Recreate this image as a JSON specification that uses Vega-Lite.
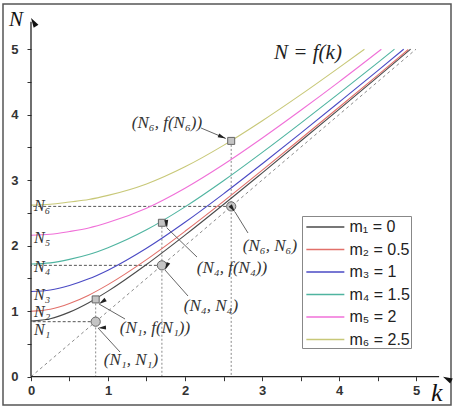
{
  "$schema": "https://vega.github.io/schema/vega-lite/v6.json",
  "width": 448,
  "height": 401,
  "autosize": "none",
  "padding": {"left": 3, "top": 4, "right": 4, "bottom": 3},
  "background": "white",
  "config": {
    "view": {"stroke": "#555", "strokeWidth": 1.5},
    "font": "Liberation Sans",
    "axis": {"grid": false}
  },
  "datasets": {
    "curves": [
      {"k": 0, "N": 0.85, "m": "m₁ = 0"}, {"k": 0.25, "N": 0.886, "m": "m₁ = 0"}, {"k": 0.5, "N": 0.986, "m": "m₁ = 0"}, {"k": 0.75, "N": 1.13, "m": "m₁ = 0"}, {"k": 1, "N": 1.306, "m": "m₁ = 0"}, {"k": 1.5, "N": 1.713, "m": "m₁ = 0"}, {"k": 2, "N": 2.161, "m": "m₁ = 0"}, {"k": 2.5, "N": 2.629, "m": "m₁ = 0"}, {"k": 3, "N": 3.109, "m": "m₁ = 0"}, {"k": 3.5, "N": 3.594, "m": "m₁ = 0"}, {"k": 4, "N": 4.082, "m": "m₁ = 0"}, {"k": 4.5, "N": 4.573, "m": "m₁ = 0"}, {"k": 4.93, "N": 5.0, "m": "m₁ = 0"},
      {"k": 0, "N": 1.0, "m": "m₂ = 0.5"}, {"k": 0.25, "N": 1.031, "m": "m₂ = 0.5"}, {"k": 0.5, "N": 1.118, "m": "m₂ = 0.5"}, {"k": 0.75, "N": 1.245, "m": "m₂ = 0.5"}, {"k": 1, "N": 1.406, "m": "m₂ = 0.5"}, {"k": 1.5, "N": 1.788, "m": "m₂ = 0.5"}, {"k": 2, "N": 2.22, "m": "m₂ = 0.5"}, {"k": 2.5, "N": 2.677, "m": "m₂ = 0.5"}, {"k": 3, "N": 3.149, "m": "m₂ = 0.5"}, {"k": 3.5, "N": 3.629, "m": "m₂ = 0.5"}, {"k": 4, "N": 4.113, "m": "m₂ = 0.5"}, {"k": 4.5, "N": 4.601, "m": "m₂ = 0.5"}, {"k": 4.9, "N": 4.995, "m": "m₂ = 0.5"},
      {"k": 0, "N": 1.3, "m": "m₃ = 1"}, {"k": 0.25, "N": 1.324, "m": "m₃ = 1"}, {"k": 0.5, "N": 1.393, "m": "m₃ = 1"}, {"k": 0.75, "N": 1.494, "m": "m₃ = 1"}, {"k": 1, "N": 1.627, "m": "m₃ = 1"}, {"k": 1.5, "N": 1.961, "m": "m₃ = 1"}, {"k": 2, "N": 2.358, "m": "m₃ = 1"}, {"k": 2.5, "N": 2.792, "m": "m₃ = 1"}, {"k": 3, "N": 3.248, "m": "m₃ = 1"}, {"k": 3.5, "N": 3.715, "m": "m₃ = 1"}, {"k": 4, "N": 4.19, "m": "m₃ = 1"}, {"k": 4.5, "N": 4.669, "m": "m₃ = 1"}, {"k": 4.84, "N": 5.0, "m": "m₃ = 1"},
      {"k": 0, "N": 1.72, "m": "m₄ = 1.5"}, {"k": 0.25, "N": 1.738, "m": "m₄ = 1.5"}, {"k": 0.5, "N": 1.791, "m": "m₄ = 1.5"}, {"k": 0.75, "N": 1.865, "m": "m₄ = 1.5"}, {"k": 1, "N": 1.97, "m": "m₄ = 1.5"}, {"k": 1.5, "N": 2.243, "m": "m₄ = 1.5"}, {"k": 2, "N": 2.593, "m": "m₄ = 1.5"}, {"k": 2.5, "N": 2.992, "m": "m₄ = 1.5"}, {"k": 3, "N": 3.421, "m": "m₄ = 1.5"}, {"k": 3.5, "N": 3.868, "m": "m₄ = 1.5"}, {"k": 4, "N": 4.326, "m": "m₄ = 1.5"}, {"k": 4.5, "N": 4.792, "m": "m₄ = 1.5"}, {"k": 4.72, "N": 5.0, "m": "m₄ = 1.5"},
      {"k": 0, "N": 2.16, "m": "m₅ = 2"}, {"k": 0.25, "N": 2.174, "m": "m₅ = 2"}, {"k": 0.5, "N": 2.217, "m": "m₅ = 2"}, {"k": 0.75, "N": 2.271, "m": "m₅ = 2"}, {"k": 1, "N": 2.353, "m": "m₅ = 2"}, {"k": 1.5, "N": 2.573, "m": "m₅ = 2"}, {"k": 2, "N": 2.878, "m": "m₅ = 2"}, {"k": 2.5, "N": 3.24, "m": "m₅ = 2"}, {"k": 3, "N": 3.641, "m": "m₅ = 2"}, {"k": 3.5, "N": 4.064, "m": "m₅ = 2"}, {"k": 4, "N": 4.502, "m": "m₅ = 2"}, {"k": 4.55, "N": 5.0, "m": "m₅ = 2"},
      {"k": 0, "N": 2.62, "m": "m₆ = 2.5"}, {"k": 0.25, "N": 2.632, "m": "m₆ = 2.5"}, {"k": 0.5, "N": 2.667, "m": "m₆ = 2.5"}, {"k": 0.75, "N": 2.705, "m": "m₆ = 2.5"}, {"k": 1, "N": 2.768, "m": "m₆ = 2.5"}, {"k": 1.5, "N": 2.943, "m": "m₆ = 2.5"}, {"k": 2, "N": 3.205, "m": "m₆ = 2.5"}, {"k": 2.5, "N": 3.532, "m": "m₆ = 2.5"}, {"k": 3, "N": 3.904, "m": "m₆ = 2.5"}, {"k": 3.5, "N": 4.302, "m": "m₆ = 2.5"}, {"k": 4, "N": 4.719, "m": "m₆ = 2.5"}, {"k": 4.33, "N": 5.0, "m": "m₆ = 2.5"}
    ],
    "diag": [{"k": 0, "N": 0}, {"k": 5, "N": 5}],
    "fp": [{"n": 0.84, "f": 1.18}, {"n": 1.7, "f": 2.35}, {"n": 2.6, "f": 3.6}],
    "arrows": [
      {"id": "a", "x1": 2.208, "y1": 3.797, "x2": 2.53, "y2": 3.637},
      {"id": "b", "x1": 2.818, "y1": 2.194, "x2": 2.649, "y2": 2.515},
      {"id": "c", "x1": 2.156, "y1": 1.827, "x2": 1.766, "y2": 2.27},
      {"id": "d", "x1": 2.039, "y1": 1.232, "x2": 1.74, "y2": 1.629},
      {"id": "e", "x1": 1.221, "y1": 0.881, "x2": 0.883, "y2": 1.11},
      {"id": "f", "x1": 1.156, "y1": 0.377, "x2": 0.87, "y2": 0.744}
    ],
    "axes": [
      {"id": "x", "x1": 0, "y1": 0, "x2": 5.3, "y2": 0},
      {"id": "y", "x1": 0, "y1": 0, "x2": 0, "y2": 5.42}
    ],
    "axisTips": [
      {"id": "x", "k": 5.35, "N": 0},
      {"id": "y", "k": 0, "N": 5.476}
    ],
    "ann": [
      {"k": 1.766, "N": 3.87, "t": "(N₆, f(N₆))"},
      {"k": 3.104, "N": 1.995, "t": "(N₆, N₆)"},
      {"k": 2.61, "N": 1.66, "t": "(N₄, f(N₄))"},
      {"k": 2.338, "N": 1.079, "t": "(N₄, N₄)"},
      {"k": 1.61, "N": 0.744, "t": "(N₁, f(N₁))"},
      {"k": 1.299, "N": 0.255, "t": "(N₁, N₁)"}
    ],
    "nlab": [
      {"k": 0.04, "N": 2.606, "t": "N₆"},
      {"k": 0.04, "N": 2.118, "t": "N₅"},
      {"k": 0.04, "N": 1.675, "t": "N₄"},
      {"k": 0.04, "N": 1.25, "t": "N₃"},
      {"k": 0.04, "N": 0.985, "t": "N₂"},
      {"k": 0.04, "N": 0.713, "t": "N₁"}
    ],
    "heading": [{"k": 3.597, "N": 4.942, "t": "N = f(k)"}],
    "ytitle": [{"k": -0.195, "N": 5.446, "t": "N"}],
    "xtitle": [{"k": 5.27, "N": -0.248, "t": "k"}]
  },
  "layer": [
    {
      "data": {"name": "diag"},
      "mark": {"type": "line", "stroke": "#8a8a8a", "strokeWidth": 1, "strokeDash": [3, 3]},
      "encoding": {
        "x": {"field": "k", "type": "quantitative", "title": null, "scale": {"domain": [-0.3636, 5.4545], "nice": false, "zero": false}},
        "y": {"field": "N", "type": "quantitative", "title": null, "scale": {"domain": [-0.432, 5.69], "nice": false, "zero": false}}
      }
    },
    {
      "data": {"name": "fp"},
      "mark": {"type": "rule", "stroke": "#8a8a8a", "strokeWidth": 1, "strokeDash": [2, 2]},
      "encoding": {
        "x": {"field": "n", "type": "quantitative", "title": null},
        "y": {"field": "f", "type": "quantitative", "title": null},
        "y2": {"datum": 0}
      }
    },
    {
      "data": {"name": "fp"},
      "mark": {"type": "rule", "stroke": "#555", "strokeWidth": 1, "strokeDash": [3, 2]},
      "encoding": {
        "x": {"field": "n", "type": "quantitative", "title": null},
        "x2": {"datum": 0},
        "y": {"field": "n", "type": "quantitative", "title": null}
      }
    },
    {
      "data": {"name": "curves"},
      "mark": {"type": "line", "interpolate": "monotone", "strokeWidth": 1.1},
      "encoding": {
        "x": {
          "field": "k", "type": "quantitative", "title": null,
          "axis": {
            "offset": -28.3, "domain": false,
            "values": [0, 0.5, 1, 1.5, 2, 2.5, 3, 3.5, 4, 4.5, 5],
            "labelExpr": "datum.value % 1 === 0 ? format(datum.value, 'd') : ''",
            "tickSize": 4,
            "tickColor": "#333", "labelColor": "#333", "labelFontSize": 13, "labelPadding": 4, "labelFont": "Liberation Sans", "labelFontWeight": "bold"
          }
        },
        "y": {
          "field": "N", "type": "quantitative", "title": null,
          "axis": {
            "offset": -28, "domain": false,
            "values": [0, 0.5, 1, 1.5, 2, 2.5, 3, 3.5, 4, 4.5, 5],
            "labelExpr": "datum.value % 1 === 0 ? format(datum.value, 'd') : ''",
            "tickSize": 4,
            "tickColor": "#333", "labelColor": "#333", "labelFontSize": 13, "labelPadding": 9, "labelFont": "Liberation Sans", "labelFontWeight": "bold"
          }
        },
        "color": {
          "field": "m", "type": "nominal",
          "scale": {
            "domain": ["m₁ = 0", "m₂ = 0.5", "m₃ = 1", "m₄ = 1.5", "m₅ = 2", "m₆ = 2.5"],
            "range": ["#4a4a4a", "#e2706a", "#4a4ac4", "#4fb4a0", "#f070d8", "#c8c878"]
          },
          "legend": {
            "orient": "none", "legendX": 299, "legendY": 212, "title": null,
            "symbolType": "M-0.7,0H3.3", "symbolSize": 361, "symbolStrokeWidth": 1.5,
            "labelFontSize": 16, "labelFont": "Liberation Sans", "labelColor": "#222",
            "strokeColor": "#888", "fillColor": "white", "padding": 0.5, "rowPadding": 3.5, "labelOffset": 26
          }
        }
      }
    },
    {
      "data": {"name": "fp"},
      "mark": {"type": "point", "shape": "square", "filled": true, "fill": "#c4c4c4", "stroke": "#666", "strokeWidth": 1, "size": 49, "opacity": 1},
      "encoding": {
        "x": {"field": "n", "type": "quantitative", "title": null},
        "y": {"field": "f", "type": "quantitative", "title": null}
      }
    },
    {
      "data": {"name": "fp"},
      "mark": {"type": "point", "shape": "circle", "filled": true, "fill": "#c4c4c4", "stroke": "#666", "strokeWidth": 1, "size": 85, "opacity": 1},
      "encoding": {
        "x": {"field": "n", "type": "quantitative", "title": null},
        "y": {"field": "n", "type": "quantitative", "title": null}
      }
    },
    {
      "data": {"name": "arrows"},
      "mark": {"type": "rule", "stroke": "#666", "strokeWidth": 1},
      "encoding": {
        "x": {"field": "x1", "type": "quantitative", "title": null},
        "y": {"field": "y1", "type": "quantitative", "title": null},
        "x2": {"field": "x2"},
        "y2": {"field": "y2"}
      }
    },
    {
      "data": {"name": "arrows"},
      "mark": {"type": "point", "shape": "M0,0L0.5,2L-0.5,2Z", "filled": true, "color": "#222", "size": 64, "opacity": 1},
      "encoding": {
        "x": {"field": "x2", "type": "quantitative", "title": null},
        "y": {"field": "y2", "type": "quantitative", "title": null},
        "angle": {"field": "id", "type": "nominal", "legend": null, "scale": {"domain": ["a", "b", "c", "d", "e", "f"], "range": [113, 328, 314, 318, 300, 317]}}
      }
    },
    {
      "data": {"name": "axes"},
      "mark": {"type": "rule", "stroke": "#222", "strokeWidth": 1.3},
      "encoding": {
        "x": {"field": "x1", "type": "quantitative", "title": null},
        "y": {"field": "y1", "type": "quantitative", "title": null},
        "x2": {"field": "x2"},
        "y2": {"field": "y2"}
      }
    },
    {
      "data": {"name": "axisTips"},
      "mark": {"type": "point", "shape": "M0,0L0.7,2.4L-0.7,2.4Z", "filled": true, "color": "#111", "size": 64, "opacity": 1},
      "encoding": {
        "x": {"field": "k", "type": "quantitative", "title": null},
        "y": {"field": "N", "type": "quantitative", "title": null},
        "angle": {"field": "id", "type": "nominal", "legend": null, "scale": {"domain": ["x", "y"], "range": [90, 0]}}
      }
    },
    {
      "data": {"name": "ann"},
      "mark": {"type": "text", "font": "Liberation Serif", "fontStyle": "italic", "fontSize": 17, "color": "#333", "align": "center", "baseline": "middle"},
      "encoding": {
        "x": {"field": "k", "type": "quantitative", "title": null},
        "y": {"field": "N", "type": "quantitative", "title": null},
        "text": {"field": "t"}
      }
    },
    {
      "data": {"name": "nlab"},
      "mark": {"type": "text", "font": "Liberation Serif", "fontStyle": "italic", "fontSize": 16, "color": "#333", "align": "left", "baseline": "middle"},
      "encoding": {
        "x": {"field": "k", "type": "quantitative", "title": null},
        "y": {"field": "N", "type": "quantitative", "title": null},
        "text": {"field": "t"}
      }
    },
    {
      "data": {"name": "heading"},
      "mark": {"type": "text", "font": "Liberation Serif", "fontStyle": "italic", "fontSize": 21, "color": "#222", "align": "center", "baseline": "middle"},
      "encoding": {
        "x": {"field": "k", "type": "quantitative", "title": null},
        "y": {"field": "N", "type": "quantitative", "title": null},
        "text": {"field": "t"}
      }
    },
    {
      "data": {"name": "ytitle"},
      "mark": {"type": "text", "font": "Liberation Serif", "fontStyle": "italic", "fontSize": 21, "color": "#111", "align": "center", "baseline": "middle"},
      "encoding": {
        "x": {"field": "k", "type": "quantitative", "title": null},
        "y": {"field": "N", "type": "quantitative", "title": null},
        "text": {"field": "t"}
      }
    },
    {
      "data": {"name": "xtitle"},
      "mark": {"type": "text", "font": "Liberation Serif", "fontStyle": "italic", "fontSize": 26, "color": "#111", "align": "center", "baseline": "middle"},
      "encoding": {
        "x": {"field": "k", "type": "quantitative", "title": null},
        "y": {"field": "N", "type": "quantitative", "title": null},
        "text": {"field": "t"}
      }
    }
  ]
}
